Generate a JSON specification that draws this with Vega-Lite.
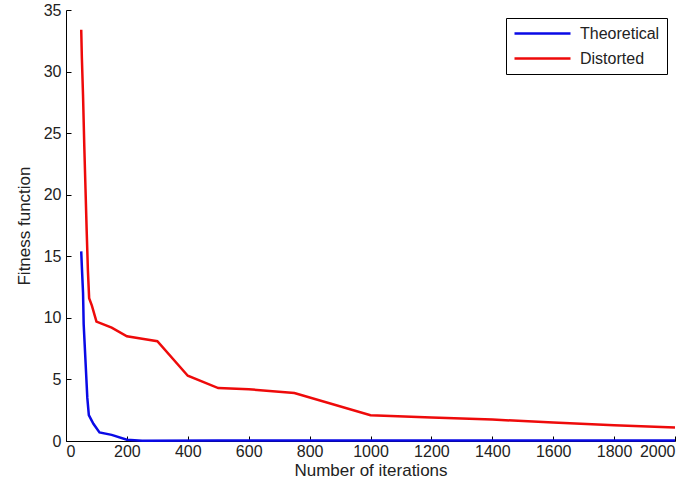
{
  "$schema": "https://vega.github.io/schema/vega-lite/v6.json",
  "width": 609,
  "height": 431,
  "autosize": "none",
  "padding": {"left": 66, "top": 10, "right": 19, "bottom": 52},
  "background": "white",
  "config": {
    "view": {"stroke": null},
    "font": "Liberation Sans",
    "axis": {"grid": false, "domainColor": "black", "tickColor": "black", "labelColor": "#222222", "titleColor": "#222222", "labelFont": "Liberation Sans", "titleFont": "Liberation Sans", "labelFontSize": 16, "titleFontSize": 17, "titleFontWeight": "normal", "tickSize": -5, "labelPadding": 7, "format": "d"}
  },
  "data": {"values": [
    {"it": 50, "f": 15.4, "s": "Theoretical"},
    {"it": 52, "f": 14.2, "s": "Theoretical"},
    {"it": 56, "f": 12.0, "s": "Theoretical"},
    {"it": 58, "f": 9.5, "s": "Theoretical"},
    {"it": 62, "f": 7.5, "s": "Theoretical"},
    {"it": 66, "f": 5.5, "s": "Theoretical"},
    {"it": 70, "f": 3.5, "s": "Theoretical"},
    {"it": 75, "f": 2.1, "s": "Theoretical"},
    {"it": 90, "f": 1.4, "s": "Theoretical"},
    {"it": 110, "f": 0.7, "s": "Theoretical"},
    {"it": 150, "f": 0.5, "s": "Theoretical"},
    {"it": 200, "f": 0.1, "s": "Theoretical"},
    {"it": 250, "f": 0.02, "s": "Theoretical"},
    {"it": 500, "f": 0.05, "s": "Theoretical"},
    {"it": 1000, "f": 0.05, "s": "Theoretical"},
    {"it": 2000, "f": 0.05, "s": "Theoretical"},
    {"it": 50, "f": 33.4, "s": "Distorted"},
    {"it": 52, "f": 31.2, "s": "Distorted"},
    {"it": 56, "f": 28.0, "s": "Distorted"},
    {"it": 60, "f": 24.0, "s": "Distorted"},
    {"it": 64, "f": 20.5, "s": "Distorted"},
    {"it": 68, "f": 17.0, "s": "Distorted"},
    {"it": 72, "f": 13.8, "s": "Distorted"},
    {"it": 76, "f": 11.6, "s": "Distorted"},
    {"it": 85, "f": 11.0, "s": "Distorted"},
    {"it": 100, "f": 9.7, "s": "Distorted"},
    {"it": 150, "f": 9.2, "s": "Distorted"},
    {"it": 200, "f": 8.5, "s": "Distorted"},
    {"it": 250, "f": 8.3, "s": "Distorted"},
    {"it": 300, "f": 8.1, "s": "Distorted"},
    {"it": 400, "f": 5.3, "s": "Distorted"},
    {"it": 500, "f": 4.3, "s": "Distorted"},
    {"it": 600, "f": 4.2, "s": "Distorted"},
    {"it": 750, "f": 3.9, "s": "Distorted"},
    {"it": 1000, "f": 2.1, "s": "Distorted"},
    {"it": 1200, "f": 1.9, "s": "Distorted"},
    {"it": 1400, "f": 1.74, "s": "Distorted"},
    {"it": 1600, "f": 1.5, "s": "Distorted"},
    {"it": 1800, "f": 1.28, "s": "Distorted"},
    {"it": 2000, "f": 1.1, "s": "Distorted"}
  ]},
  "mark": {"type": "line", "strokeWidth": 2.5, "interpolate": "linear"},
  "encoding": {
    "x": {"field": "it", "type": "quantitative", "title": "Number of iterations", "scale": {"domain": [0, 2000], "nice": false}, "axis": {"values": [0,200,400,600,800,1000,1200,1400,1600,1800,2000], "titlePadding": 3}},
    "y": {"field": "f", "type": "quantitative", "title": "Fitness function", "scale": {"domain": [0, 35], "nice": false}, "axis": {"values": [0,5,10,15,20,25,30,35], "labelPadding": 10, "titlePadding": 10}},
    "color": {"field": "s", "type": "nominal", "sort": ["Theoretical", "Distorted"], "scale": {"domain": ["Theoretical", "Distorted"], "range": ["#0a0ae6", "#ee0a0a"]},
      "legend": {"title": null, "orient": "top-right", "offset": 8, "strokeColor": "black", "fillColor": "white", "padding": 7, "symbolType": "M-1,0H7", "symbolSize": 196, "symbolStrokeWidth": 2.5, "labelOffset": 50, "labelFont": "Liberation Sans", "labelFontSize": 16, "labelColor": "#222222", "rowPadding": 8}
    }
  }
}
